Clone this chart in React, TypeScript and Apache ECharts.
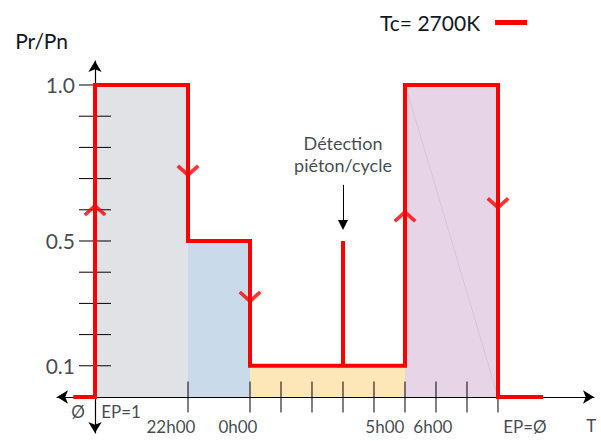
import React, { useEffect, useRef } from "react";
import * as echarts from "echarts";

// ---- data (x = hours counted from 19h00, y = Pr/Pn) ----
const seriesName = "Tc= 2700K";
const stepX = [-0.7, 0, 0, 3, 3, 5, 5, 8, 8, 8, 10, 10, 13, 13, 14.45];
const stepY = [0, 0, 1, 1, 0.5, 0.5, 0.1, 0.1, 0.5, 0.1, 0.1, 1, 1, 0, 0];

const zoneStart = [0, 3, 5, 10];
const zoneEnd = [3, 5, 10, 13];
const zoneLevel = [1, 0.5, 0.1, 1];

const yTickValues = [0.1, 0.2, 0.3, 0.4, 0.5, 0.6, 0.7, 0.8, 0.9, 1.0];
const yLabelValues = [0.1, 0.5, 1.0];
const yLabelAnchorX = -0.645;
const xTickValues = [3, 5, 6, 7, 8, 9, 10, 11, 12, 13];

const timeLabels = ["Ø", "EP=1", "22h00", "0h00", "5h00", "6h00", "EP=Ø"];
const timeLabelX = [-0.55, 0.84, 2.45, 4.61, 9.35, 10.9, 13.87];
const timeLabelY = [-0.048, -0.048, -0.096, -0.096, -0.096, -0.096, -0.096];
const axisNameT = "T";
const axisNameTX = 15.85;
const axisNameTY = -0.09;

const chevronUpX = [0, 10];
const chevronUpY = [0.6, 0.58];
const chevronDownX = [3, 5, 13];
const chevronDownY = [0.724, 0.32, 0.62];

const detectionText = "Détection\npiéton/cycle";
const detectionX = 8;
const detectionTextY = 0.779;
const detectionArrowFrom = 0.68;
const detectionArrowTo = 0.551;

const diagX = [10.1, 13];
const diagY = [0.97, 0];

// ---- styles ----
const FONT = 'Lato, "Open Sans", sans-serif';
const TEXT = "#111822";
const zoneColors = ["#e1e2e5", "#c9dbeb", "#fde6b8", "#e8d4e7"];
const chevron = "path://M11,0 L22,9.6 L19.6,12 L11,4.6 L2.4,12 L0,9.6 Z";

export default function App() {
  const ref = useRef<HTMLDivElement>(null);
  useEffect(() => {
    if (!ref.current) return;
    const chart = echarts.init(ref.current, undefined, { renderer: "svg" });
    const option: any = {
      animation: false,
      backgroundColor: "#ffffff",
      grid: { left: 57, right: 7, top: 61, bottom: 8, containLabel: false, outerBoundsMode: "none" },
      legend: {
        data: [seriesName],
        left: 375,
        top: 7,
        align: "right",
        icon: "rect",
        itemWidth: 32,
        itemHeight: 5,
        selectedMode: false,
        formatter: (n: string) => "{t|" + n + "}",
        textStyle: {
          color: TEXT,
          fontFamily: FONT,
          fontSize: 21,
          rich: { t: { fontSize: 21, fontFamily: FONT, color: TEXT, padding: [0, 10, 0, 0] } },
        },
      },
      xAxis: {
        type: "value",
        min: -1.226,
        max: 16.097,
        z: 4,
        axisLine: {
          onZero: true,
          symbol: ["arrow", "arrow"],
          symbolSize: [10, 11],
          lineStyle: { color: "#000", width: 1.2 },
        },
        axisTick: { show: false },
        axisLabel: { show: false },
        splitLine: { show: false },
      },
      yAxis: {
        type: "value",
        min: -0.1154,
        max: 1.0769,
        z: 4,
        name: "Pr/Pn",
        nameLocation: "end",
        nameGap: 10,
        nameTextStyle: { fontSize: 21, color: TEXT, fontFamily: FONT, align: "right", padding: [0, 27, 0, 0] },
        axisLine: {
          onZero: true,
          symbol: ["arrow", "arrow"],
          symbolSize: [10, 11],
          lineStyle: { color: "#000", width: 1.2 },
        },
        axisTick: { show: false },
        axisLabel: { show: false },
        splitLine: { show: false },
      },
      series: [
        {
          type: "custom",
          z: 1,
          silent: true,
          encode: { x: [0, 1], y: 2 },
          data: zoneStart.map((s, i) => [s, zoneEnd[i], zoneLevel[i]]),
          renderItem: (params: any, api: any) => {
            const p0 = api.coord([api.value(0), api.value(2)]);
            const p1 = api.coord([api.value(1), 0]);
            return {
              type: "rect",
              shape: { x: p0[0], y: p0[1], width: p1[0] - p0[0], height: p1[1] - p0[1] },
              style: { fill: zoneColors[params.dataIndex] },
            };
          },
        },
        {
          type: "line",
          z: 2,
          silent: true,
          symbol: "none",
          data: diagX.map((x, i) => [x, diagY[i]]),
          lineStyle: { color: "#dcc2dc", width: 1 },
        },
        {
          type: "custom",
          z: 3,
          silent: true,
          data: yTickValues.map((v) => [0, v]),
          renderItem: (params: any, api: any) => {
            const p = api.coord([api.value(0), api.value(1)]);
            return {
              type: "line",
              shape: { x1: p[0] - 16, y1: p[1], x2: p[0] + 16, y2: p[1] },
              style: { stroke: "#000", lineWidth: 1 },
            };
          },
        },
        {
          type: "custom",
          z: 3,
          silent: true,
          data: xTickValues.map((v) => [v, 0]),
          renderItem: (params: any, api: any) => {
            const p = api.coord([api.value(0), api.value(1)]);
            return {
              type: "line",
              shape: { x1: p[0], y1: p[1] - 15.5, x2: p[0], y2: p[1] + 15.5 },
              style: { stroke: "#000", lineWidth: 1 },
            };
          },
        },
        {
          type: "line",
          name: seriesName,
          z: 5,
          symbol: "none",
          data: stepX.map((x, i) => [x, stepY[i]]),
          itemStyle: { color: "#ff0000" },
          lineStyle: { color: "#ff0000", width: 4, join: "miter", cap: "butt" },
        },
        {
          type: "scatter",
          z: 6,
          silent: true,
          symbol: chevron,
          symbolSize: [23, 13],
          itemStyle: { color: "#ff0000" },
          data: chevronUpX.map((x, i) => [x, chevronUpY[i]]),
        },
        {
          type: "scatter",
          z: 6,
          silent: true,
          symbol: chevron,
          symbolSize: [23, 13],
          symbolRotate: 180,
          itemStyle: { color: "#ff0000" },
          data: chevronDownX.map((x, i) => [x, chevronDownY[i]]),
        },
        {
          type: "scatter",
          z: 7,
          silent: true,
          symbolSize: 0,
          data: yLabelValues.map((v) => [yLabelAnchorX, v]),
          label: {
            show: true,
            position: "left",
            distance: 0,
            formatter: (p: any) => Number(p.value[1]).toFixed(1),
            fontSize: 21,
            color: TEXT,
            fontFamily: FONT,
          },
        },
        {
          type: "scatter",
          z: 7,
          silent: true,
          symbolSize: 0,
          data: [[axisNameTX, axisNameTY, axisNameT]],
          label: {
            show: true,
            position: "right",
            distance: 0,
            formatter: (p: any) => p.value[2],
            fontSize: 17,
            color: TEXT,
            fontFamily: FONT,
          },
        },
        {
          type: "scatter",
          z: 7,
          silent: true,
          clip: false,
          symbolSize: 0,
          data: timeLabels.map((t, i) => [timeLabelX[i], timeLabelY[i], t]),
          label: {
            show: true,
            position: "inside",
            formatter: (p: any) => p.value[2],
            fontSize: 17,
            color: TEXT,
            fontFamily: FONT,
          },
        },
        {
          type: "scatter",
          z: 7,
          silent: true,
          symbolSize: 0,
          data: [[detectionX, detectionTextY]],
          label: {
            show: true,
            position: "inside",
            formatter: detectionText,
            fontSize: 18,
            lineHeight: 22,
            align: "center",
            color: TEXT,
            fontFamily: FONT,
          },
          markLine: {
            silent: true,
            symbol: ["none", "triangle"],
            symbolSize: 10,
            label: { show: false },
            lineStyle: { color: "#000", width: 1, type: "solid" },
            data: [[{ coord: [detectionX, detectionArrowFrom] }, { coord: [detectionX, detectionArrowTo] }]],
          },
        },
      ],
    };
    chart.setOption(option);
    return () => chart.dispose();
  }, []);
  return (
    <div
      ref={ref}
      style={{ position: "fixed", left: 0, top: 0, width: 601, height: 441, background: "#fff" }}
    />
  );
}
